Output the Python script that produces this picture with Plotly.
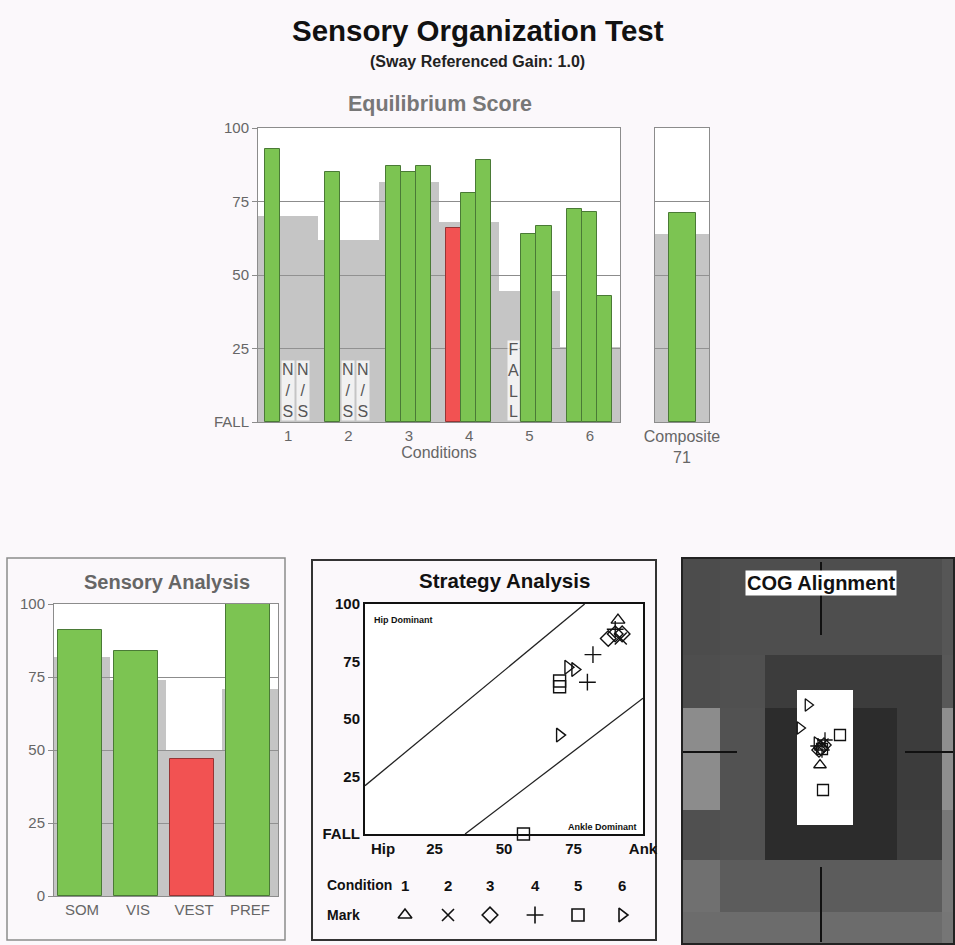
import plotly.graph_objects as go

W, H = 955, 945
FONT = "Liberation Sans, Arial, Helvetica, sans-serif"

# ---------------- data ----------------
CONDITIONS = ["1", "2", "3", "4", "5", "6"]
TRIAL_SCORES = [
    [93, None, None],
    [85, None, None],
    [87, 85, 87],
    [66, 78, 89],
    [None, 64, 66.5],
    [72.5, 71.5, 43],
]
TRIAL_FLAGS = [
    ["", "N/S", "N/S"],
    ["", "N/S", "N/S"],
    ["", "", ""],
    ["", "", ""],
    ["FALL", "", ""],
    ["", "", ""],
]
NORM_SCORES = [70, 62, 81.5, 68, 44.5, 25.5]
COMPOSITE_SCORE = 71
COMPOSITE_NORM = 64

SENSORY_LABELS = ["SOM", "VIS", "VEST", "PREF"]
SENSORY_SCORES = [91, 84, 47, 100]
SENSORY_NORMS = [82, 74, 50, 71]

STRATEGY_SCORES = [
    [91, None, None],
    [92, None, None],
    [90, 87.5, 92.5],
    [80, 82, 90],
    [57, 70, 70],
    [73, 75.5, 70],
]
HIP_LINE_X = [0, 79]
HIP_LINE_Y = [21, 100]
ANKLE_LINE_X = [36, 100]
ANKLE_LINE_Y = [0, 59]

COG_X = [[-1], [2], [0, 3, -2], [4, -3, 1], [19, 2, 1], [-13, -21, -4]]
COG_Y = [[13], [-8], [-4, -7, -2], [-12, -6, -2], [-17, 38, -3], [-47, -24, -9]]

MARK_SYMBOLS = ["triangle-up-open", "x-thin-open", "diamond-open",
                "cross-thin-open", "square-open", "triangle-right-open"]

# COG background picture (grey levels on a coarse grid)
COG_X_EDGES = [-139, -101, -56, -24, 32, 76, 121, 134]
COG_Y_EDGES = [-194, -97, -62, -44, 58, 73, 108, 160, 193]
COG_LEVELS = [
    [76, 78, 78, 78, 78, 78, 86],
    [78, 80, 60, 60, 60, 60, 88],
    [78, 80, 60, 255, 60, 60, 88],
    [140, 82, 44, 255, 44, 60, 142],
    [80, 82, 44, 255, 44, 62, 120],
    [80, 82, 44, 44, 44, 62, 120],
    [112, 92, 92, 92, 92, 92, 120],
    [108, 108, 108, 108, 108, 108, 118],
]
COG_CROSS_X = [0, 0, None, 0, 0, None, -139, -84, None, 84, 134]
COG_CROSS_Y = [-190, -117, None, 115, 190, None, 0, 0, None, 0, 0]

# ---------------- layout constants ----------------
TRIAL_OFFSET0 = 0.115
TRIAL_WIDTH = 0.25
GREEN = "#7cc452"
GREEN_LINE = "#4a7a36"
RED = "#f25252"
RED_LINE = "#963434"
NORM_GREY = "rgba(150,150,150,0.55)"
GRID = "#8c8c8c"
TXT_GREY = "#666666"
PAGE_BG = "#fbf8fb"
LEGEND_X = [405, 448, 490, 535, 578, 622]      # page pixels

# plot boxes in page pixels: (left, right, top, bottom)
EQ_BOX = (258, 620, 128, 422)
COMP_BOX = (655, 709, 128, 422)
SENS_BOX = (54, 278, 604, 896)
STRAT_BOX = (365, 643, 604, 834)
COG_BOX = (682, 955, 558, 945)
LEG_BOX = (312, 656, 905, 925)


def px(p):
    return p / W


def py(p):
    return 1 - p / H


def xdom(b):
    return [px(b[0]), px(b[1])]


def ydom(b):
    return [py(b[3]), py(b[2])]


def bar_color(v, n):
    return RED if v < n else GREEN


def bar_line(v, n):
    return RED_LINE if v < n else GREEN_LINE


fig = go.Figure()

# ---------- Equilibrium score ----------
fig.add_trace(go.Bar(
    x=list(range(len(CONDITIONS))), y=NORM_SCORES, width=1, offset=0,
    marker=dict(color=NORM_GREY, line=dict(width=0)),
    xaxis="x", yaxis="y", hoverinfo="skip", showlegend=False))

bx, by, boff, bcol, blin = [], [], [], [], []
for c, trials in enumerate(TRIAL_SCORES):
    for t, v in enumerate(trials):
        if v is None:
            continue
        bx.append(c)
        by.append(v)
        boff.append(TRIAL_OFFSET0 + TRIAL_WIDTH * t)
        bcol.append(bar_color(v, NORM_SCORES[c]))
        blin.append(bar_line(v, NORM_SCORES[c]))
fig.add_trace(go.Bar(
    x=bx, y=by, width=TRIAL_WIDTH, offset=boff,
    marker=dict(color=bcol, line=dict(color=blin, width=1)),
    xaxis="x", yaxis="y", showlegend=False))

annotations = []
for c, flags in enumerate(TRIAL_FLAGS):
    for t, f in enumerate(flags):
        if not f:
            continue
        annotations.append(dict(
            x=c + TRIAL_OFFSET0 + TRIAL_WIDTH * (t + 0.5), y=0, xref="x", yref="y",
            text="<br>".join(list(f)), showarrow=False, yanchor="bottom", yshift=1,
            font=dict(family=FONT, size=16, color="#555555"),
            bgcolor="rgba(255,255,255,0.75)", borderpad=0))

# composite
fig.add_trace(go.Bar(
    x=[0.5], y=[COMPOSITE_NORM], width=1,
    marker=dict(color=NORM_GREY, line=dict(width=0)),
    xaxis="x2", yaxis="y2", hoverinfo="skip", showlegend=False))
fig.add_trace(go.Bar(
    x=[0.5], y=[COMPOSITE_SCORE], width=0.5,
    marker=dict(color=bar_color(COMPOSITE_SCORE, COMPOSITE_NORM),
                line=dict(color=bar_line(COMPOSITE_SCORE, COMPOSITE_NORM), width=1)),
    xaxis="x2", yaxis="y2", showlegend=False))

# ---------- Sensory analysis ----------
fig.add_trace(go.Bar(
    x=list(range(len(SENSORY_LABELS))), y=SENSORY_NORMS, width=1, offset=-0.5,
    marker=dict(color=NORM_GREY, line=dict(width=0)),
    xaxis="x3", yaxis="y3", hoverinfo="skip", showlegend=False))
fig.add_trace(go.Bar(
    x=list(range(len(SENSORY_LABELS))), y=SENSORY_SCORES, width=0.78, offset=-0.43,
    marker=dict(color=[bar_color(v, n) for v, n in zip(SENSORY_SCORES, SENSORY_NORMS)],
                line=dict(color=[bar_line(v, n) for v, n in zip(SENSORY_SCORES, SENSORY_NORMS)],
                          width=1)),
    xaxis="x3", yaxis="y3", showlegend=False))

# ---------- Strategy analysis ----------
fig.add_trace(go.Scatter(x=HIP_LINE_X, y=HIP_LINE_Y, mode="lines",
                         line=dict(color="#222222", width=1.3),
                         xaxis="x4", yaxis="y4", showlegend=False, hoverinfo="skip"))
fig.add_trace(go.Scatter(x=ANKLE_LINE_X, y=ANKLE_LINE_Y, mode="lines",
                         line=dict(color="#222222", width=1.3),
                         xaxis="x4", yaxis="y4", showlegend=False, hoverinfo="skip"))
for c in range(len(CONDITIONS)):
    sx, sy = [], []
    for t in range(3):
        s = STRATEGY_SCORES[c][t]
        if s is None:
            continue
        eq = TRIAL_SCORES[c][t]
        sx.append(s)
        sy.append(0 if eq is None else eq)
    fig.add_trace(go.Scatter(
        x=sx, y=sy, mode="markers", cliponaxis=False,
        marker=dict(symbol=MARK_SYMBOLS[c], size=12, color="#111111",
                    line=dict(color="#111111", width=1.4)),
        xaxis="x4", yaxis="y4", showlegend=False, name="Condition " + CONDITIONS[c]))

# legend marks row on its own hidden axes (x in page pixels)
fig.add_trace(go.Scatter(
    x=LEGEND_X, y=[0.5] * len(LEGEND_X), mode="markers", cliponaxis=False,
    marker=dict(symbol=MARK_SYMBOLS, size=12, color="#111111",
                line=dict(color="#111111", width=1.6)),
    xaxis="x6", yaxis="y6", showlegend=False, hoverinfo="skip"))

# ---------- COG alignment ----------
fig.add_trace(go.Heatmap(
    x=COG_X_EDGES, y=COG_Y_EDGES, z=COG_LEVELS, zmin=0, zmax=255,
    colorscale=[[0, "rgb(0,0,0)"], [1, "rgb(255,255,255)"]], showscale=False,
    xaxis="x5", yaxis="y5", hoverinfo="skip"))
fig.add_trace(go.Scatter(x=COG_CROSS_X, y=COG_CROSS_Y, mode="lines",
                         line=dict(color="#111111", width=2),
                         xaxis="x5", yaxis="y5", showlegend=False, hoverinfo="skip"))
for c in range(len(CONDITIONS)):
    fig.add_trace(go.Scatter(
        x=COG_X[c], y=COG_Y[c], mode="markers",
        marker=dict(symbol=MARK_SYMBOLS[c], size=11, color="#111111",
                    line=dict(color="#111111", width=1.3)),
        xaxis="x5", yaxis="y5", showlegend=False))

# ---------- text ----------
def ann(text, x, y, size, color="#111111", bold=False, xanchor="center", **kw):
    d = dict(text=("<b>%s</b>" % text) if bold else text, x=px(x), y=py(y),
             xref="paper", yref="paper", showarrow=False, xanchor=xanchor,
             yanchor="middle", font=dict(family=FONT, size=size, color=color))
    d.update(kw)
    annotations.append(d)

ann("Sensory Organization Test", 478, 30, 29.5, bold=True)
ann("(Sway Referenced Gain: 1.0)", 477, 61, 16, bold=True, color="#222222")
ann("Equilibrium Score", 440, 104, 21.5, bold=True, color="#777777")
ann("Sensory Analysis", 167, 582, 20, bold=True, color="#666666")
ann("Strategy Analysis", 504, 580, 20.5, bold=True)
ann("COG Alignment", 821, 583, 20, bold=True, bgcolor="white", borderpad=1)
ann("Hip Dominant", 372, 620, 9, bold=True, xanchor="left")
ann("Ankle Dominant", 639, 827, 9, bold=True, xanchor="right")
ann("Condition", 325, 885, 14, bold=True, xanchor="left")
ann("Mark", 325, 915, 14, bold=True, xanchor="left")
for c in range(len(CONDITIONS)):
    ann(CONDITIONS[c], LEGEND_X[c], 885, 15, bold=True)

# ---------- panel frames and white plot backgrounds ----------
def rect(b, **kw):
    d = dict(type="rect", xref="paper", yref="paper", x0=px(b[0]), x1=px(b[1]),
             y0=py(b[3]), y1=py(b[2]))
    d.update(kw)
    return d

shapes = [
    rect((7, 285, 558, 940), line=dict(color="#8c8c8c", width=1.5), layer="below"),
    rect((312, 656, 560, 940), line=dict(color="#333333", width=2), layer="below"),
]
for b in (EQ_BOX, COMP_BOX, SENS_BOX, STRAT_BOX):
    shapes.append(rect(b, fillcolor="#ffffff", line=dict(width=0), layer="below"))
shapes.append(rect((682, 954, 558, 944), line=dict(color="#222222", width=2)))

tick_grey = dict(family=FONT, size=15, color=TXT_GREY)
tick_black = dict(family=FONT, size=15, color="#111111")

fig.update_layout(
    width=W, height=H, margin=dict(l=0, r=0, t=0, b=0, pad=0, autoexpand=False),
    paper_bgcolor=PAGE_BG, plot_bgcolor="rgba(0,0,0,0)",
    barmode="overlay", bargap=0, showlegend=False,
    font=dict(family=FONT),
    annotations=annotations, shapes=shapes,
    xaxis=dict(domain=xdom(EQ_BOX), range=[0, 6], anchor="y",
               tickvals=[i + 0.5 for i in range(len(CONDITIONS))], ticktext=CONDITIONS,
               showgrid=False, zeroline=False, showline=True, mirror=True, linecolor=GRID,
               tickfont=tick_grey, title=dict(text="Conditions", standoff=2,
                                              font=dict(family=FONT, size=16, color=TXT_GREY))),
    yaxis=dict(domain=ydom(EQ_BOX), range=[0, 100], anchor="x",
               tickvals=[0, 25, 50, 75, 100], ticktext=["FALL", "25", "50", "75", "100"],
               showgrid=True, gridcolor=GRID, zeroline=False, showline=True, mirror=True,
               linecolor=GRID, ticks="outside", ticklen=5, tickcolor=GRID, tickfont=tick_grey),
    xaxis2=dict(domain=xdom(COMP_BOX), range=[0, 1], anchor="y2",
                tickvals=[0.5], ticktext=["Composite<br>%d" % COMPOSITE_SCORE],
                showgrid=False, zeroline=False, showline=True, mirror=True, linecolor=GRID,
                tickfont=dict(family=FONT, size=16, color=TXT_GREY)),
    yaxis2=dict(domain=ydom(COMP_BOX), range=[0, 100], anchor="x2",
                tickvals=[25, 50, 75], showticklabels=False, showgrid=True, gridcolor=GRID,
                zeroline=False, showline=True, mirror=True, linecolor=GRID),
    xaxis3=dict(domain=xdom(SENS_BOX), range=[-0.5, 3.5], anchor="y3",
                tickvals=list(range(len(SENSORY_LABELS))), ticktext=SENSORY_LABELS,
                showgrid=False, zeroline=False, showline=True, mirror=True, linecolor=GRID,
                tickfont=tick_grey),
    yaxis3=dict(domain=ydom(SENS_BOX), range=[0, 100], anchor="x3",
                tickvals=[0, 25, 50, 75, 100], showgrid=True, gridcolor=GRID, zeroline=False,
                showline=True, mirror=True, linecolor=GRID, ticks="outside", ticklen=5,
                tickcolor=GRID, tickfont=tick_grey),
    xaxis4=dict(domain=xdom(STRAT_BOX), range=[0, 100], anchor="y4",
                tickvals=[6.5, 25, 50, 75, 100],
                ticktext=["<b>Hip</b>", "<b>25</b>", "<b>50</b>", "<b>75</b>", "<b>Ank</b>"],
                showgrid=False, zeroline=False, showline=True, mirror=True, linecolor="#111111",
                linewidth=2, tickfont=tick_black),
    yaxis4=dict(domain=ydom(STRAT_BOX), range=[0, 100], anchor="x4",
                tickvals=[0, 25, 50, 75, 100],
                ticktext=["<b>FALL</b>", "<b>25</b>", "<b>50</b>", "<b>75</b>", "<b>100</b>"],
                showgrid=False, zeroline=False, showline=True, mirror=True, linecolor="#111111",
                linewidth=2, tickfont=tick_black),
    xaxis5=dict(domain=xdom(COG_BOX), range=[COG_X_EDGES[0], COG_X_EDGES[-1]],
                anchor="y5", visible=False),
    yaxis5=dict(domain=ydom(COG_BOX), range=[COG_Y_EDGES[-1], COG_Y_EDGES[0]],
                anchor="x5", visible=False),
    xaxis6=dict(domain=xdom(LEG_BOX), range=[LEG_BOX[0], LEG_BOX[1]], anchor="y6",
                visible=False),
    yaxis6=dict(domain=ydom(LEG_BOX), range=[0, 1], anchor="x6", visible=False),
)

fig.write_html(
    "out.html",
    config={"displayModeBar": False},
    post_script="document.body.style.margin='0';document.body.style.background='%s';" % PAGE_BG,
)
